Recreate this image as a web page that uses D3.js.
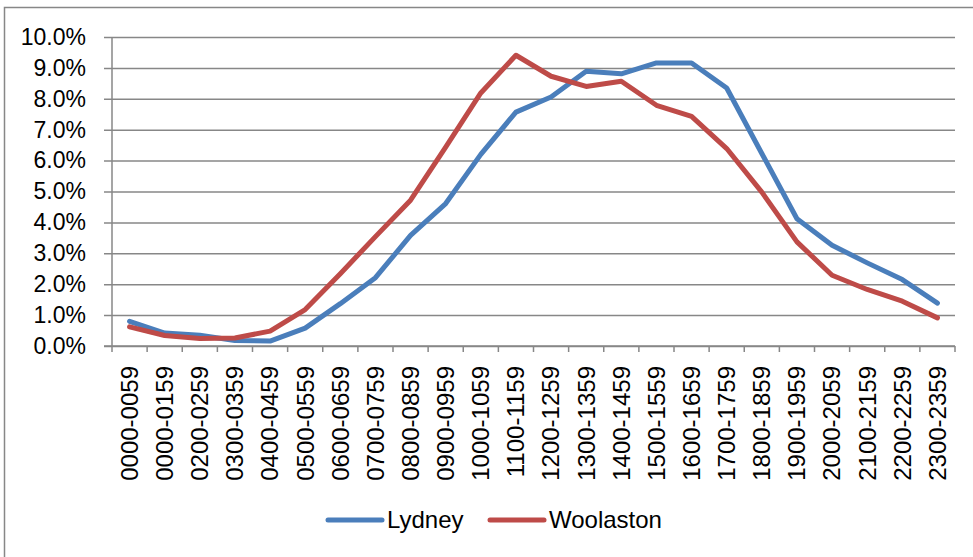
<!DOCTYPE html>
<html>
<head>
<meta charset="utf-8">
<script src="https://cdn.jsdelivr.net/npm/d3@7"></script>
<style>
  body { margin: 0; background: #fff; }
  svg { display: block; font-family: "Liberation Sans", Arial, sans-serif; }
</style>
</head>
<body>
<svg id="chart" width="973" height="557"></svg>
<script>
// time bands (second label is "0000-0159" in the source chart)
const bands = ["0000-0059", "0000-0159", "0200-0259", "0300-0359", "0400-0459", "0500-0559",
  "0600-0659", "0700-0759", "0800-0859", "0900-0959", "1000-1059", "1100-1159",
  "1200-1259", "1300-1359", "1400-1459", "1500-1559", "1600-1659", "1700-1759",
  "1800-1859", "1900-1959", "2000-2059", "2100-2159", "2200-2259", "2300-2359"];

const lydney = [0.80, 0.42, 0.35, 0.18, 0.16, 0.58, 1.37, 2.21, 3.58, 4.61, 6.20, 7.57,
  8.06, 8.89, 8.81, 9.16, 9.16, 8.35, 6.23, 4.12, 3.26, 2.69, 2.15, 1.39];

const woolaston = [0.62, 0.34, 0.24, 0.26, 0.48, 1.18, 2.34, 3.54, 4.72, 6.44, 8.19, 9.41,
  8.73, 8.40, 8.57, 7.79, 7.43, 6.39, 4.98, 3.37, 2.29, 1.83, 1.45, 0.91];

const yTicks = [0, 1, 2, 3, 4, 5, 6, 7, 8, 9, 10];

const series = [
  { name: "Lydney", values: lydney, color: "#4A7EBB" },
  { name: "Woolaston", values: woolaston, color: "#BE4B48" }
];

const svg = d3.select("#chart");
const plotL = 112, plotR = 955, plotT = 37, plotB = 346;
const grey = "#878787";

// outer frame
svg.append("rect")
  .attr("x", 4.5).attr("y", 7.5)
  .attr("width", 1000).attr("height", 600)
  .attr("fill", "none").attr("stroke", grey).attr("stroke-width", 1.5);

const x = d3.scaleBand().domain(bands).range([plotL, plotR]);
const y = d3.scaleLinear().domain([0, 10]).range([plotB, plotT]);

// gridlines + y labels
const yAxis = d3.axisLeft(y)
  .tickValues(yTicks)
  .tickSize(-(plotR - plotL) - 8)
  .tickFormat(d => d.toFixed(1) + "%");

const gy = svg.append("g")
  .attr("transform", `translate(${plotL - 8},0)`)
  .call(yAxis);
gy.select(".domain").remove();
gy.selectAll(".tick line").attr("stroke", grey).attr("stroke-width", 1.5);
gy.selectAll(".tick text")
  .attr("x", -18)
  .attr("fill", "#000")
  .style("font-size", "23px")
  .style("font-family", "Liberation Sans, Arial, sans-serif");

// vertical axis line
svg.append("line")
  .attr("x1", plotL).attr("x2", plotL)
  .attr("y1", plotT).attr("y2", plotB)
  .attr("stroke", grey).attr("stroke-width", 1.5);

// x axis: ticks at band edges
const gx = svg.append("g");
gx.append("line")
  .attr("x1", plotL - 8).attr("x2", plotR)
  .attr("y1", plotB).attr("y2", plotB)
  .attr("stroke", grey).attr("stroke-width", 1.5);
gx.selectAll("line.tk")
  .data(bands.concat(["end"]))
  .enter().append("line")
  .attr("class", "tk")
  .attr("x1", (d, i) => plotL + i * x.step())
  .attr("x2", (d, i) => plotL + i * x.step())
  .attr("y1", plotB).attr("y2", plotB + 6)
  .attr("stroke", grey).attr("stroke-width", 1.5);

gx.selectAll("text")
  .data(bands)
  .enter().append("text")
  .attr("transform", d => `translate(${x(d) + x.bandwidth() / 2},366) rotate(-90)`)
  .attr("text-anchor", "end")
  .attr("dy", "0.35em")
  .style("font-size", "24px")
  .text(d => d);

// lines
const line = d3.line()
  .x((d, i) => x(bands[i]) + x.bandwidth() / 2)
  .y(d => y(d));

svg.selectAll("path.series")
  .data(series)
  .enter().append("path")
  .attr("class", "series")
  .attr("d", d => line(d.values))
  .attr("fill", "none")
  .attr("stroke", d => d.color)
  .attr("stroke-width", 5)
  .attr("stroke-linejoin", "round")
  .attr("stroke-linecap", "round");

// legend
const legendPos = [328, 490];
const lg = svg.selectAll("g.legend")
  .data(series)
  .enter().append("g")
  .attr("class", "legend")
  .attr("transform", (d, i) => `translate(${legendPos[i]},520)`);
lg.append("line")
  .attr("x1", 0).attr("x2", 54)
  .attr("stroke", d => d.color)
  .attr("stroke-width", 5)
  .attr("stroke-linecap", "round");
lg.append("text")
  .attr("x", 59)
  .attr("dy", "0.35em")
  .style("font-size", "24px")
  .text(d => d.name);
</script>
</body>
</html>
